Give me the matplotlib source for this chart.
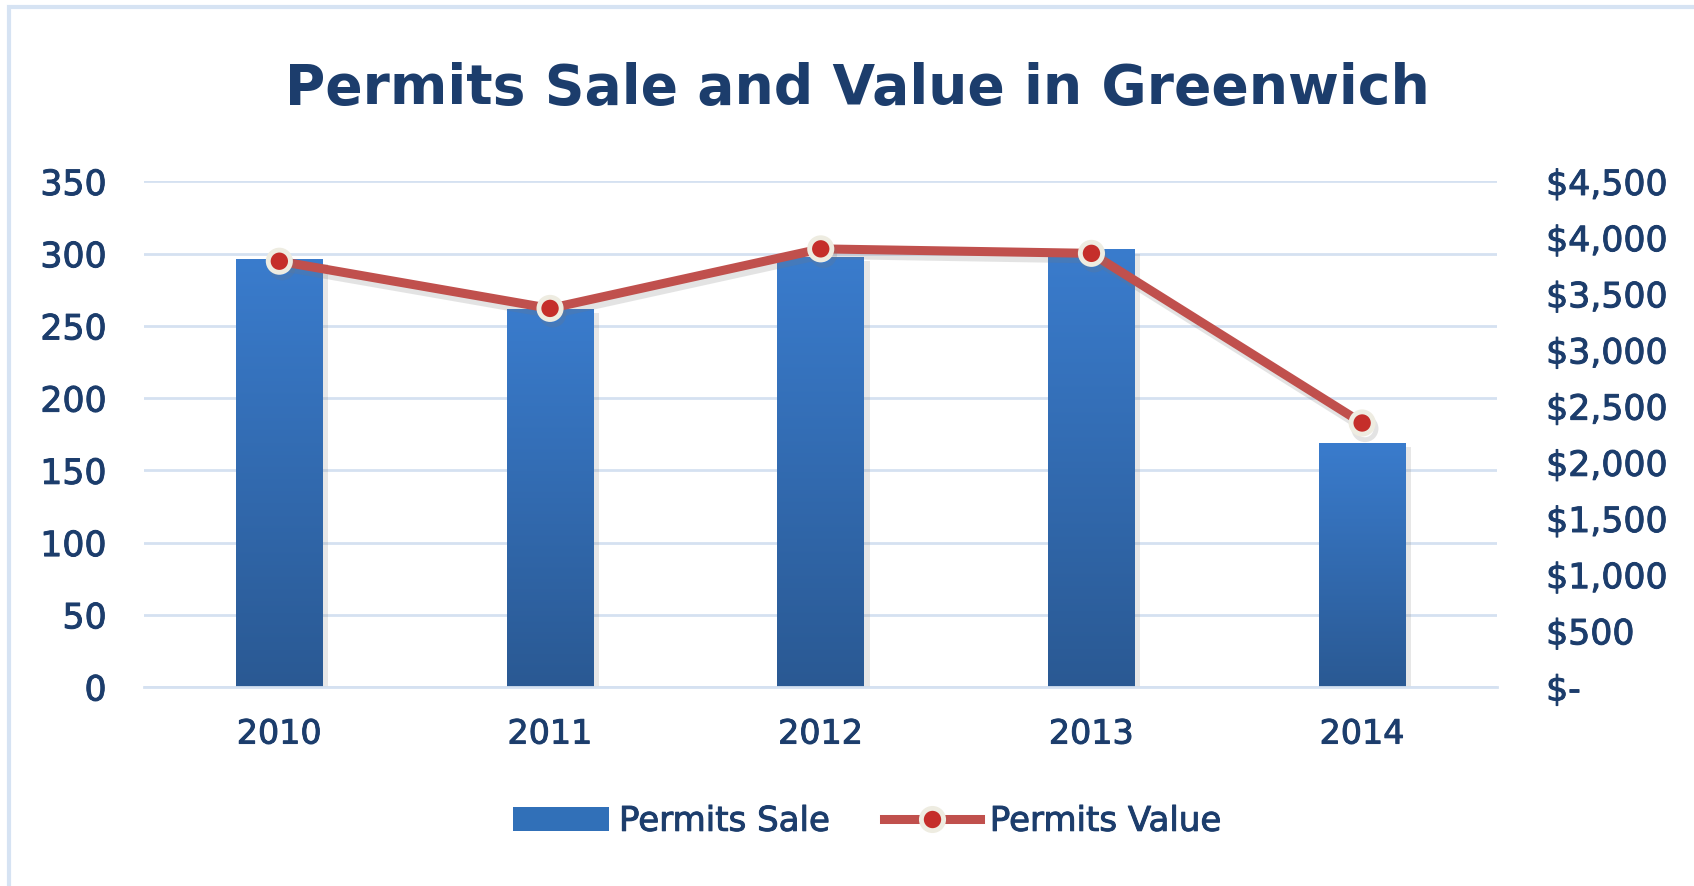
import numpy as np
import matplotlib
matplotlib.use("Agg")
import matplotlib.pyplot as plt
import matplotlib.patheffects as pe
from matplotlib.lines import Line2D
from matplotlib.patches import Rectangle
from matplotlib.colors import LinearSegmentedColormap

years = ["2010", "2011", "2012", "2013", "2014"]
permits_sale = [296, 262, 298, 303, 169]
permits_value = [3790, 3370, 3900, 3860, 2350]

left_ticks = [0, 50, 100, 150, 200, 250, 300, 350]
right_ticks = [0, 500, 1000, 1500, 2000, 2500, 3000, 3500, 4000, 4500]

navy = "#1C3D6C"
grid_col = "#D5E1F1"
line_col = "#C0504D"

plt.rcParams["font.family"] = "DejaVu Sans"

# slight stroke so the labels read a little heavier
heavy = [pe.withStroke(linewidth=0.7, foreground=navy)]

fig = plt.figure(figsize=(16.94, 8.86), dpi=100)
ax = fig.add_axes([0.085, 0.2246, 0.799, 0.5706])

# light frame along the left and top edges
fig.patches.append(Rectangle((0.0053, -0.05), 2, 1.042, transform=fig.transFigure,
                             fill=False, edgecolor="#D6E3F3", linewidth=3))

x = np.arange(len(years))
bar_w = 0.32
bars = ax.bar(x, permits_sale, width=bar_w, color="none", zorder=2)

# vertical gradient fill inside each bar
cmap = LinearSegmentedColormap.from_list("barblue", ["#2A5993", "#3A7CCD"])
grad = np.linspace(0, 1, 256).reshape(-1, 1)
for b in bars:
    bx, by = b.get_x(), b.get_y()
    bw, bh = b.get_width(), b.get_height()
    shadow = Rectangle((bx, by), bw, bh, facecolor="none", edgecolor="none", zorder=1.9)
    ax.add_patch(shadow)
    shadow.set_path_effects([pe.SimplePatchShadow(offset=(4, -3), shadow_rgbFace="#888888", alpha=0.2)])
    im = ax.imshow(grad, cmap=cmap, aspect="auto", origin="lower",
                   extent=(bx, bx + bw, by, by + bh), zorder=2)
    im.set_clip_path(b)

ax.set_xlim(-0.5, len(years) - 0.5)
ax.set_ylim(0, 350)
ax.set_yticks(left_ticks)
ax.set_xticks(x)
ax.set_xticklabels(years)
ax.grid(axis="y", color=grid_col, linewidth=2)
ax.set_axisbelow(True)
for s in ["top", "right", "left"]:
    ax.spines[s].set_visible(False)
ax.spines["bottom"].set_color(grid_col)
ax.spines["bottom"].set_linewidth(2)
ax.tick_params(axis="y", length=0, pad=27, labelsize=25, labelcolor=navy)
ax.tick_params(axis="x", length=0, pad=22, labelsize=24, labelcolor=navy)

ax2 = ax.twinx()
ax2.set_ylim(0, 4500)
ax2.set_yticks(right_ticks)
ax2.set_yticklabels(["$-" if v == 0 else f"${v:,}" for v in right_ticks])
for s in ax2.spines.values():
    s.set_visible(False)
ax2.tick_params(axis="y", length=0, pad=35, labelsize=25, labelcolor=navy)

for lab in ax.get_xticklabels() + ax.get_yticklabels() + ax2.get_yticklabels():
    lab.set_path_effects(heavy)

ax2.plot(x, permits_value, color=line_col, linewidth=6.5, solid_capstyle="round",
         marker="o", markersize=16, markerfacecolor="#C52E2A",
         markeredgecolor="#EEECE1", markeredgewidth=3.5, zorder=3,
         path_effects=[pe.SimpleLineShadow(offset=(2, -4), shadow_color="#777777", alpha=0.2),
                       pe.Normal()])

fig.text(0.506, 0.899, "Permits Sale and Value in Greenwich", ha="center", va="center",
         fontsize=39.7, fontweight="bold", color=navy)

handles = [
    Rectangle((0, 0), 1, 1, facecolor="#3170B8", edgecolor="none"),
    Line2D([], [], color=line_col, linewidth=6.5, marker="o", markersize=16,
           markerfacecolor="#C52E2A", markeredgecolor="#EEECE1", markeredgewidth=3.5),
]
leg = fig.legend(handles, ["Permits Sale", "Permits Value"], loc="center",
                 bbox_to_anchor=(0.512, 0.073), ncol=2, frameon=False, fontsize=24.5,
                 labelcolor=navy, handlelength=2.8, handletextpad=0.3, columnspacing=1.6)
for t in leg.get_texts():
    t.set_path_effects(heavy)

fig.savefig("out.png", dpi=100, facecolor="white")
